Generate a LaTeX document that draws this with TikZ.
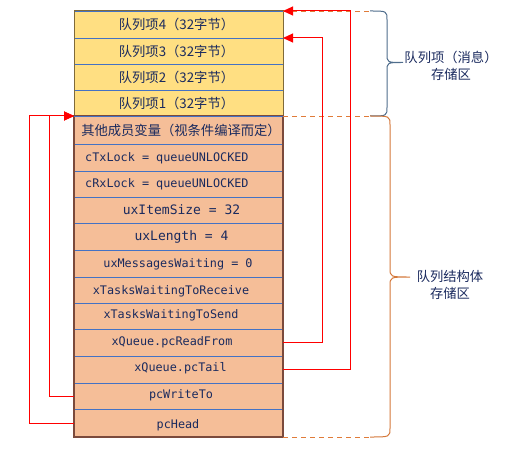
\documentclass[tikz,border=0pt]{standalone}
\usepackage{fontspec}
\setmainfont{Noto Sans CJK SC}
\newfontfamily\codefont{DejaVu Sans Mono}
\usetikzlibrary{arrows.meta}
\definecolor{txt}{HTML}{1A2A5E}
\definecolor{yfill}{HTML}{FFDF82}
\definecolor{ofill}{HTML}{F5BE98}
\definecolor{sep}{HTML}{4472C4}
\definecolor{yborder}{HTML}{7F6A3A}
\definecolor{oborder}{HTML}{7B4A3C}
\definecolor{dash}{HTML}{E07B39}
\definecolor{bbrace}{HTML}{4F6D8C}
\definecolor{obrace}{HTML}{D4783A}
\tikzset{
  qrow/.style={draw=sep, fill=yfill, line width=0.9pt, minimum width=209pt, inner sep=0pt, outer sep=0pt},
  srow/.style={draw=sep, fill=ofill, line width=0.9pt, minimum width=209pt, inner sep=0pt, outer sep=0pt},
  cjk/.style={text=txt, font=\fontsize{13.3}{15}\selectfont, inner sep=0pt},
  code/.style={text=txt, font=\codefont\fontsize{11.8}{14}\selectfont, inner sep=0pt},
  bigcode/.style={text=txt, font=\codefont\fontsize{13}{15}\selectfont, inner sep=0pt},
  ptr/.style={draw=red, line width=1pt, -{Triangle[length=10pt,width=9pt]}},
  guide/.style={draw=dash, line width=0.9pt, dash pattern=on 5pt off 4pt},
}
\begin{document}
\begin{tikzpicture}[x=1pt,y=-1pt]
\useasboundingbox (0,0) rectangle (505,457);
% queue item rows
\node[qrow, minimum height=27pt] (q4) at (178.5,24.5) {};
\node[qrow, minimum height=26pt] (q3) at (178.5,51) {};
\node[qrow, minimum height=26pt] (q2) at (178.5,77) {};
\node[qrow, minimum height=26pt] (q1) at (178.5,103) {};
% structure rows
\node[srow, minimum height=28pt] (s1) at (178.5,130) {};
\node[srow, minimum height=27pt] (s2) at (178.5,157.5) {};
\node[srow, minimum height=26pt] (s3) at (178.5,184) {};
\node[srow, minimum height=26pt] (s4) at (178.5,210) {};
\node[srow, minimum height=27pt] (s5) at (178.5,236.5) {};
\node[srow, minimum height=27pt] (s6) at (178.5,263.5) {};
\node[srow, minimum height=26pt] (s7) at (178.5,290) {};
\node[srow, minimum height=26pt] (s8) at (178.5,316) {};
\node[srow, minimum height=27pt] (s9) at (178.5,342.5) {};
\node[srow, minimum height=27pt] (s10) at (178.5,369.5) {};
\node[srow, minimum height=26pt] (s11) at (178.5,396) {};
\node[srow, minimum height=28pt] (s12) at (178.5,423) {};
% outer borders
\draw[yborder, line width=1pt] (q1.south west) rectangle (q4.north east);
\draw[oborder, line width=1.2pt] (s12.south west) rectangle (s1.north east);
\draw[sep, line width=0.9pt] (q1.south west) -- (q1.south east);
% texts
\node[cjk] (t4) at (176.5,24.5) {队列项4（32字节）};
\node[cjk] (t3) at (176.5,51) {队列项3（32字节）};
\node[cjk] (t2) at (176.5,77) {队列项2（32字节）};
\node[cjk] (t1) at (176.5,103) {队列项1（32字节）};
\node[cjk] (u1) at (181,130) {其他成员变量（视条件编译而定）};
\node[code, anchor=west] (u2) at (85,158) {cTxLock = queueUNLOCKED};
\node[code, anchor=west] (u3) at (85,184) {cRxLock = queueUNLOCKED};
\node[bigcode] (u4) at (181.5,209.5) {uxItemSize = 32};
\node[bigcode] (u5) at (181.5,237) {uxLength = 4};
\node[code] (u6) at (178,264) {uxMessagesWaiting = 0};
\node[code] (u7) at (171,291.5) {xTasksWaitingToReceive};
\node[code] (u8) at (171,315.5) {xTasksWaitingToSend};
\node[code] (u9) at (172,342) {xQueue.pcReadFrom};
\node[code] (u10) at (180.5,368) {xQueue.pcTail};
\node[code] (u11) at (181,395.5) {pcWriteTo};
\node[code] (u12) at (178,425) {pcHead};
% guide lines
\coordinate (g1) at (370,11);
\coordinate (g2) at (370,116);
\coordinate (g3) at (370,437);
\draw[guide] (q4.north east) -- (g1);
\draw[guide] (q1.south east) -- (g2);
\draw[guide] (s12.south east) -- (g3);
% braces
\draw[bbrace, line width=1pt] (g1) .. controls (387,11) .. (387,20) -- (387,54) .. controls (387,62.5) .. (403,62.5) .. controls (387,62.5) .. (387,71) -- (387,107) .. controls (387,116) .. (g2);
\draw[obrace, line width=1pt] (g2) .. controls (390,116) .. (390,125) -- (390,268) .. controls (390,277) .. (410,277) .. controls (390,277) .. (390,286) -- (390,428) .. controls (390,437) .. (g3);
\node[cjk, align=center] (lab1) at (451,66) {队列项（消息）\\[2pt]存储区};
\node[cjk, align=center] (lab2) at (450,285) {队列结构体\\[2pt]存储区};
% pointers
\draw[ptr] (s9.east) -- (322,342.5) |- (q3.north east);
\draw[ptr] (s10.east) -- (350,369.5) |- (q4.north east);
\draw[ptr] (s11.west) -- (49,396) |- (s1.north west);
\draw[ptr] (s12.west) -- (29,423) |- (s1.north west);
\end{tikzpicture}
\end{document}
